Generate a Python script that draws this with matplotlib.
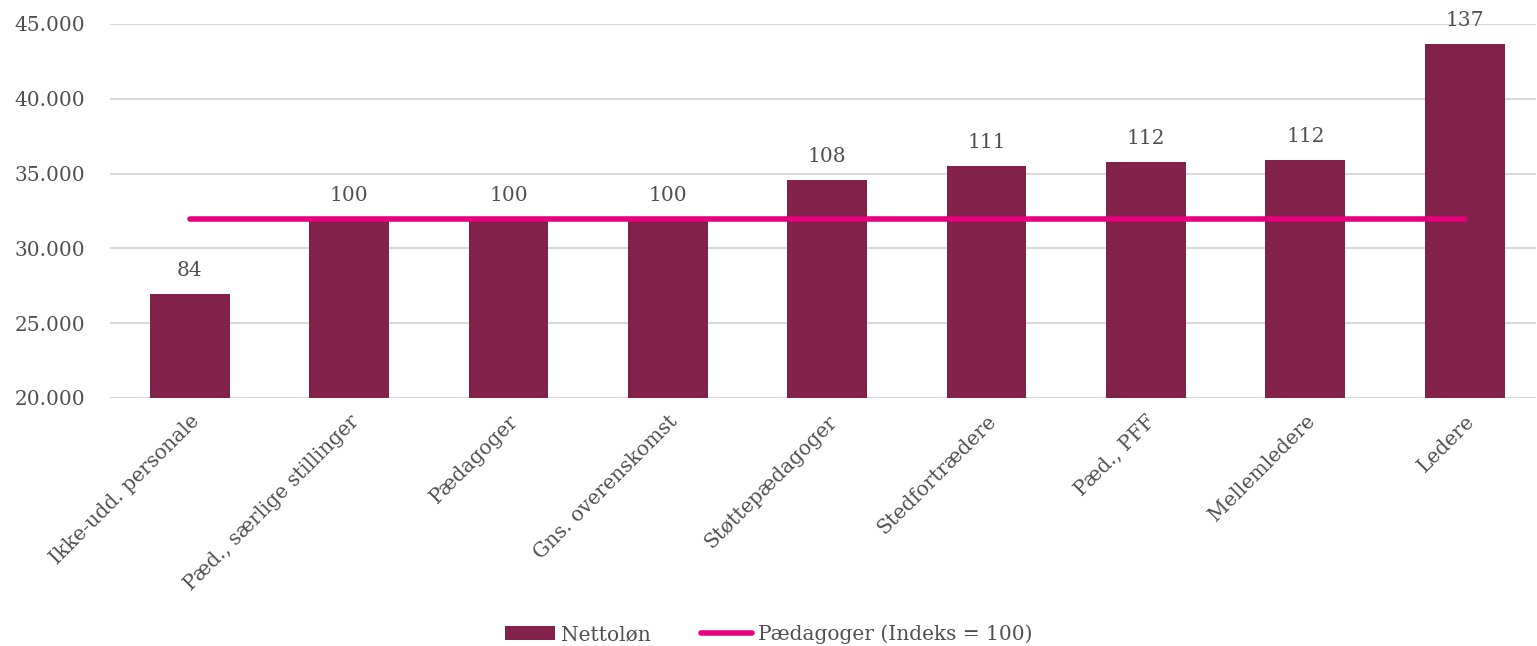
import matplotlib.pyplot as plt
from matplotlib.ticker import FuncFormatter

categories = ["Ikke-udd. personale", "Pæd., særlige stillinger", "Pædagoger",
              "Gns. overenskomst", "Støttepædagoger", "Stedfortrædere",
              "Pæd., PFF", "Mellemledere", "Ledere"]
nettolon = [26950, 32000, 32000, 32000, 34580, 35510, 35800, 35880, 43640]
index_labels = ["84", "100", "100", "100", "108", "111", "112", "112", "137"]
reference = [31960] * len(categories)

bar_color = "#82224A"
line_color = "#E6007E"
text_color = "#505050"

plt.rcParams["font.family"] = ["DejaVu Serif"]

fig = plt.figure(figsize=(15.37, 6.46), dpi=100)
ax = fig.add_axes([0.0716, 0.384, 0.928, 0.579])

x = list(range(len(categories)))
bars = ax.bar(x, nettolon, width=0.5, color=bar_color, label="Nettoløn", zorder=2)
line, = ax.plot(x, reference, color=line_color, linewidth=4, solid_capstyle="round",
                label="Pædagoger (Indeks = 100)", zorder=3)

for xi, v, lab in zip(x, nettolon, index_labels):
    ax.annotate(lab, (xi, v), xytext=(0, 10), textcoords="offset points",
                ha="center", va="bottom", fontsize=14.5, color=text_color,
                annotation_clip=False)

ax.set_xlim(-0.5, len(categories) - 0.55)
ax.set_ylim(20000, 45000)
ax.set_yticks(range(20000, 45001, 5000))
ax.yaxis.set_major_formatter(FuncFormatter(lambda v, p: f"{int(v):,}".replace(",", ".")))
ax.grid(axis="y", color="#D9D9D9", linewidth=1.5, zorder=0)
ax.set_axisbelow(True)
for s in ax.spines.values():
    s.set_visible(False)
ax.tick_params(axis="both", length=0, labelsize=14.5, colors=text_color)
ax.tick_params(axis="y", pad=18)
ax.set_xticks(x)
ax.set_xticklabels(categories, rotation=45, ha="right", rotation_mode="anchor")
ax.tick_params(axis="x", pad=10)

fig.legend([bars, line], ["Nettoløn", "Pædagoger (Indeks = 100)"],
           loc="lower center", bbox_to_anchor=(0.5, -0.025), ncol=2, frameon=False,
           fontsize=14.5, labelcolor=text_color, handlelength=2.5, handletextpad=0.3,
           columnspacing=2.5)

fig.savefig("out.png", dpi=100)
